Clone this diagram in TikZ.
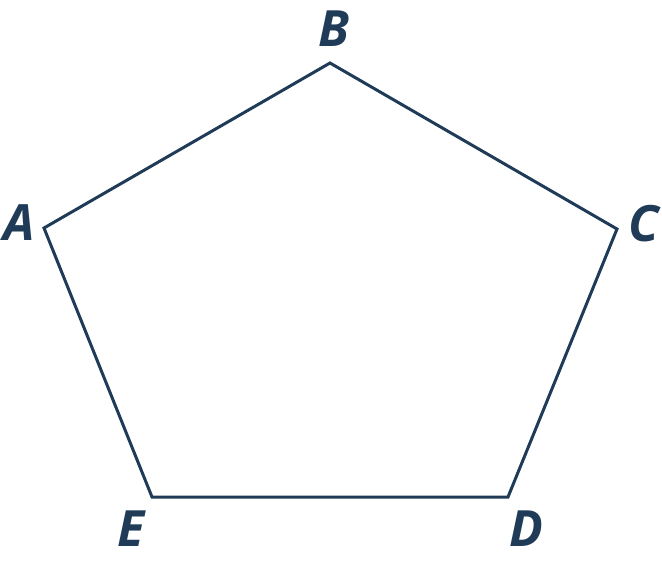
\documentclass[tikz,border=0pt]{standalone}
\usepackage{fontspec}
\setmainfont{Open Sans}
\definecolor{navy}{HTML}{1F3B57}

\begin{document}
\begin{tikzpicture}[x=1pt,y=-1pt,
  edge/.style={draw=navy,line width=3pt,line join=miter},
  vlabel/.style={text=navy,font=\fontsize{50}{50}\selectfont\bfseries\itshape,inner sep=0pt}]

\useasboundingbox (0,0) rectangle (662,578);

\coordinate (A) at (44,228);
\coordinate (B) at (330,63);
\coordinate (C) at (617,229);
\coordinate (D) at (508,497);
\coordinate (E) at (152,497);

\draw[edge] (A) -- (B) -- (C) -- (D) -- (E) -- cycle;

\node[vlabel] (labA) at (19,223) {A};
\node[vlabel] (labB) at (334,29) {B};
\node[vlabel] (labC) at (644,224) {C};
\node[vlabel] (labD) at (526,529) {D};
\node[vlabel] (labE) at (131,529) {E};
\end{tikzpicture}
\end{document}
